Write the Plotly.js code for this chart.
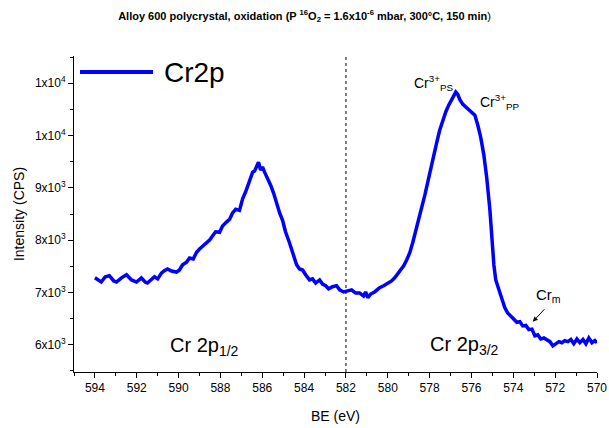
<!DOCTYPE html>
<html>
<head>
<meta charset="utf-8">
<script src="https://cdn.plot.ly/plotly-3.0.1.min.js"></script>
<style>html,body{margin:0;padding:0;background:#fff;}#chart{width:609px;height:428px;}</style>
</head>
<body>
<div id="chart"></div>
<script>
// Binding energy (eV)
const bindingEnergy = [
594.0,593.7,593.5,593.31,593.1,592.97,592.73,592.49,592.25,592.01,591.78,591.6,591.49,591.3,591.15,591.0,
590.82,590.7,590.53,590.34,590.1,589.96,589.81,589.62,589.48,589.3,589.14,589.0,588.9,588.71,588.52,588.38,
588.23,588.04,587.9,587.7,587.56,587.42,587.27,587.09,586.94,586.8,586.66,586.56,586.46,586.37,586.27,586.18,
586.08,585.99,585.89,585.75,585.6,585.46,585.32,585.17,585.03,584.89,584.7,584.55,584.36,584.22,584.07,583.93,
583.74,583.6,583.45,583.26,583.12,582.97,582.83,582.64,582.45,582.3,582.11,581.92,581.73,581.54,581.35,581.16,
581.06,580.96,580.82,580.63,580.39,580.2,580.01,579.82,579.67,579.53,579.38,579.24,579.1,578.95,578.81,578.67,
578.52,578.38,578.23,578.09,577.95,577.8,577.66,577.52,577.37,577.23,577.09,576.94,576.85,576.75,576.66,576.56,
576.42,576.27,576.13,575.99,575.84,575.7,575.56,575.41,575.27,575.12,575.03,574.93,574.84,574.7,574.55,574.41,
574.27,574.12,573.98,573.83,573.69,573.55,573.4,573.26,573.11,572.97,572.83,572.69,572.54,572.4,572.25,572.11,
571.97,571.82,571.68,571.54,571.39,571.25,571.11,570.96,570.82,570.67,570.53,570.39,570.24,570.1,570.0
];
// Intensity (CPS)
const intensity = [
7280,7200,7300,7320,7220,7200,7280,7340,7240,7200,7280,7200,7180,7260,7300,7260,
7370,7410,7450,7410,7390,7430,7530,7580,7660,7640,7770,7830,7870,7930,8000,8080,
8160,8150,8270,8350,8400,8520,8590,8570,8790,8920,9070,9190,9300,9320,9430,9490,
9340,9400,9300,9190,9050,8900,8710,8520,8380,8160,7950,7740,7530,7450,7430,7340,
7240,7260,7180,7240,7160,7130,7070,7110,7130,7050,7010,7030,7050,6990,6990,6930,
7010,6900,6970,7010,7090,7130,7180,7220,7280,7350,7430,7510,7620,7760,7950,8160,
8380,8610,8860,9110,9380,9630,9870,10100,10290,10450,10580,10690,10770,10830,10790,10690,
10600,10540,10500,10430,10390,10200,9970,9630,9190,8580,8000,7530,7240,7050,6860,6710,
6610,6550,6500,6430,6440,6360,6370,6290,6300,6170,6190,6110,6130,6100,6060,5980,
6020,6060,6040,6080,6060,6100,6020,6110,6040,6100,6020,6130,6040,6080,6040
];
const seriesName = "Cr2p";
const xTickVals = [594,592,590,588,586,584,582,580,578,576,574,572,570];
const xTickText = ["594","592","590","588","586","584","582","580","578","576","574","572","570"];
const yTickVals = [6000,7000,8000,9000,10000,11000];
const yTickText = ["6x10<sup>3</sup>","7x10<sup>3</sup>","8x10<sup>3</sup>","9x10<sup>3</sup>","1x10<sup>4</sup>","1x10<sup>4</sup>"];
const dividerBE = 582;

const font = "Liberation Sans, Arial, sans-serif";
const trace = {
  x: bindingEnergy, y: intensity, type: "scatter", mode: "lines", name: seriesName,
  line: {color: "#0000ff", width: 3.5}, showlegend: false, hoverinfo: "skip"
};
const layout = {
  width: 609, height: 428,
  margin: {l: 74, r: 12, t: 56, b: 56},
  paper_bgcolor: "#fff", plot_bgcolor: "#fff",
  font: {family: font, color: "#000", size: 12},
  title: {
    text: "<b>Alloy 600 polycrystal, oxidation (P <sup>16</sup>O<sub>2</sub> = 1.6x10<sup>-6</sup> mbar, 300°C, 150 min</b>)",
    font: {family: font, size: 11, color: "#000"}, x: 0.5, xanchor: "center", y: 0.962, yanchor: "middle"
  },
  xaxis: {
    range: [595, 570], autorange: false,
    tickvals: xTickVals, ticktext: xTickText,
    ticks: "outside", ticklen: 5, tickwidth: 1, tickcolor: "#000",
    minor: {dtick: 1, tick0: 570, ticks: "outside", ticklen: 3, tickwidth: 1, tickcolor: "#000", showgrid: false},
    showline: true, linecolor: "#000", linewidth: 1, mirror: false,
    showgrid: false, zeroline: false,
    tickfont: {family: font, size: 12, color: "#000"},
    title: {text: "BE (eV)", font: {family: font, size: 14, color: "#000"}, standoff: 16}
  },
  yaxis: {
    range: [5480, 11520], autorange: false,
    tickvals: yTickVals, ticktext: yTickText,
    ticks: "outside", ticklen: 5, tickwidth: 1, tickcolor: "#000",
    minor: {dtick: 500, tick0: 5500, ticks: "outside", ticklen: 3, tickwidth: 1, tickcolor: "#000", showgrid: false},
    showline: true, linecolor: "#000", linewidth: 1, mirror: false,
    showgrid: false, zeroline: false,
    tickfont: {family: font, size: 12, color: "#000"},
    title: {text: "Intensity (CPS)", font: {family: font, size: 14, color: "#000"}, standoff: 6}
  },
  shapes: [
    {type: "line", xref: "x", yref: "paper", x0: dividerBE, x1: dividerBE, y0: 0, y1: 1,
     line: {color: "#000", width: 1, dash: "dot"}},
    {type: "line", xref: "paper", yref: "paper", x0: 0.0115, x1: 0.151, y0: 0.949, y1: 0.949,
     line: {color: "#0000ff", width: 4}}
  ],
  annotations: [
    {xref: "paper", yref: "paper", x: 0.168, y: 0.949, xanchor: "left", yanchor: "middle",
     text: seriesName, showarrow: false, font: {family: font, size: 28, color: "#000"}},
    {x: 578.86, y: 11000, xanchor: "left", yanchor: "middle", showarrow: false,
     text: "Cr<sup>3+</sup><sub>PS</sub>", font: {family: font, size: 14, color: "#000"}},
    {x: 575.7, y: 10650, xanchor: "left", yanchor: "middle", showarrow: false,
     text: "Cr<sup>3+</sup><sub>PP</sub>", font: {family: font, size: 14, color: "#000"}},
    {x: 590.53, y: 5960, xanchor: "left", yanchor: "middle", showarrow: false,
     text: "Cr 2p<sub>1/2</sub>", font: {family: font, size: 20, color: "#000"}},
    {x: 578.09, y: 5990, xanchor: "left", yanchor: "middle", showarrow: false,
     text: "Cr 2p<sub>3/2</sub>", font: {family: font, size: 20, color: "#000"}},
    {x: 573.02, y: 6935, xanchor: "left", yanchor: "middle", showarrow: false,
     text: "Cr<sub>m</sub>", font: {family: font, size: 15, color: "#000"}},
    {x: 573.07, y: 6440, ax: 13, ay: -14, text: "", showarrow: true,
     arrowhead: 2, arrowsize: 1, arrowwidth: 1, arrowcolor: "#000"}
  ]
};
Plotly.newPlot("chart", [trace], layout, {staticPlot: true, displayModeBar: false});
</script>
</body>
</html>
